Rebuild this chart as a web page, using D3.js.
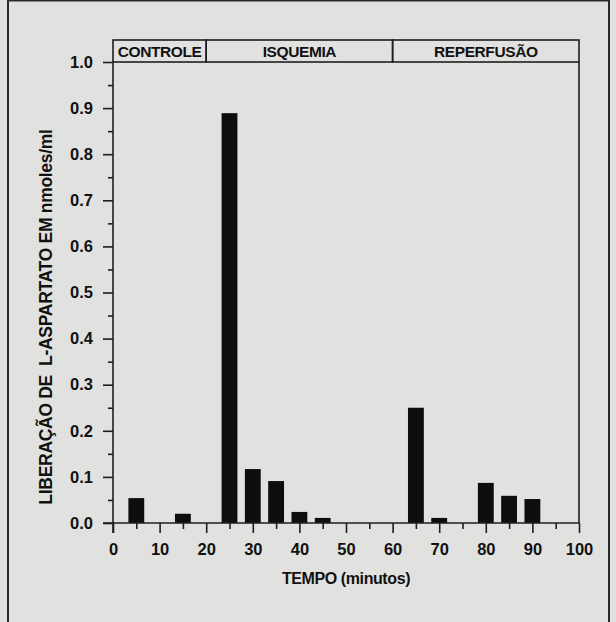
<!DOCTYPE html>
<html><head><meta charset="utf-8">
<script src="https://cdn.jsdelivr.net/npm/d3@7"></script>
<style>
html,body{margin:0;padding:0;background:#e1e1df;}
svg{display:block;}
text{font-family:"Liberation Sans",Arial,sans-serif;font-weight:bold;fill:#111;}
</style></head>
<body>
<script>
// Data
const times = [5, 15, 25, 30, 35, 40, 45, 65, 70, 80, 85, 90];
const values = [0.054, 0.02, 0.889, 0.117, 0.091, 0.024, 0.011, 0.25, 0.011, 0.087, 0.059, 0.052];
const phases = ["CONTROLE", "ISQUEMIA", "REPERFUSÃO"];
const phaseStart = [0, 20, 60];
const phaseEnd = [20, 60, 100];
const xTicks = [0, 10, 20, 30, 40, 50, 60, 70, 80, 90, 100];
const yTicks = [0.0, 0.1, 0.2, 0.3, 0.4, 0.5, 0.6, 0.7, 0.8, 0.9, 1.0];
const xLabel = "TEMPO (minutos)";
const yLabel = "LIBERAÇÃO DE  L-ASPARTATO EM nmoles/ml";

const W = 616, H = 622;
const svg = d3.select("body").append("svg").attr("width", W).attr("height", H);
svg.append("rect").attr("width", W).attr("height", H).attr("fill", "#e1e1df");

// outer frame
svg.append("rect").attr("x", 8).attr("y", 0.5).attr("width", 601).attr("height", H + 10)
  .attr("fill", "none").attr("stroke", "#2a2a2a").attr("stroke-width", 2);

const x = d3.scaleLinear().domain([0, 100]).range([113, 579]);
const y = d3.scaleLinear().domain([0, 1]).range([523, 62]);
const ink = "#1e1e1e";

// header boxes
const hTop = 40, hBot = y(1);
phases.forEach((p, i) => {
  svg.append("rect").attr("x", x(phaseStart[i])).attr("y", hTop)
    .attr("width", x(phaseEnd[i]) - x(phaseStart[i])).attr("height", hBot - hTop)
    .attr("fill", "none").attr("stroke", ink).attr("stroke-width", 1.6);
  svg.append("text").attr("x", (x(phaseStart[i]) + x(phaseEnd[i])) / 2).attr("y", hBot - 5.5)
    .attr("text-anchor", "middle").attr("font-size", 15.5).attr("letter-spacing", -0.4).text(p);
});

// right border of plot
svg.append("line").attr("x1", x(100)).attr("x2", x(100)).attr("y1", y(1)).attr("y2", y(0))
  .attr("stroke", ink).attr("stroke-width", 1.6);

// bars
const bw = x(3.4) - x(0);
svg.append("g").selectAll("rect").data(times).join("rect")
  .attr("x", (d) => x(d) - bw / 2).attr("width", bw)
  .attr("y", (d, i) => y(values[i])).attr("height", (d, i) => y(0) - y(values[i]))
  .attr("fill", "#0d0d0d");

function styleAxis(g) {
  g.selectAll("path,line").attr("stroke", ink).attr("stroke-width", 1.6);
  g.select(".domain").remove();
}

// y axis
const yMinor = d3.range(0.05, 1.0, 0.1);
svg.append("g").attr("transform", `translate(${x(0)},0)`)
  .call(d3.axisLeft(y).tickValues(yMinor).tickSize(5).tickFormat(""))
  .call(styleAxis);
const ya = svg.append("g").attr("transform", `translate(${x(0)},0)`)
  .call(d3.axisLeft(y).tickValues(yTicks).tickSize(10).tickPadding(10).tickFormat(d3.format(".1f")))
  .call(styleAxis);
ya.selectAll("text").attr("font-size", 16.5).attr("font-family", "Liberation Sans, Arial, sans-serif")
  .attr("font-weight", "bold").attr("fill", "#111");
svg.append("line").attr("x1", x(0)).attr("x2", x(0)).attr("y1", y(1)).attr("y2", y(0) + 10)
  .attr("stroke", ink).attr("stroke-width", 1.6);

// x axis
const xMinor = d3.range(5, 100, 10);
svg.append("g").attr("transform", `translate(0,${y(0)})`)
  .call(d3.axisBottom(x).tickValues(xMinor).tickSize(6).tickFormat(""))
  .call(styleAxis);
const xa = svg.append("g").attr("transform", `translate(0,${y(0)})`)
  .call(d3.axisBottom(x).tickValues(xTicks).tickSize(10).tickPadding(10).tickFormat(d3.format("d")))
  .call(styleAxis);
xa.selectAll("text").attr("font-size", 16.5).attr("font-family", "Liberation Sans, Arial, sans-serif")
  .attr("font-weight", "bold").attr("fill", "#111");
svg.append("line").attr("x1", x(0) - 10).attr("x2", x(100)).attr("y1", y(0)).attr("y2", y(0))
  .attr("stroke", ink).attr("stroke-width", 1.6);

// axis titles
svg.append("text").attr("x", 346).attr("y", 584)
  .attr("text-anchor", "middle").attr("font-size", 16).attr("letter-spacing", -0.4).text(xLabel);
svg.append("text").attr("transform", `translate(52,${317}) rotate(-90)`)
  .attr("text-anchor", "middle").attr("font-size", 17.5).attr("letter-spacing", -0.3)
  .style("white-space", "pre").text(yLabel);
</script>
</body></html>
